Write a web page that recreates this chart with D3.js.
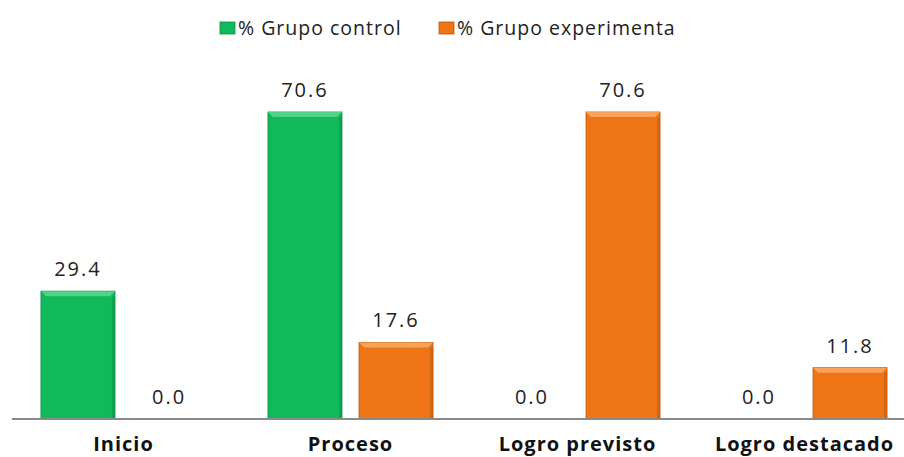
<!DOCTYPE html>
<html>
<head>
<meta charset="utf-8">
<script src="https://cdn.jsdelivr.net/npm/d3@7"></script>
<style>
  html, body { margin: 0; padding: 0; background: #fff; }
  svg text { font-family: "Open Sans", sans-serif; }
</style>
</head>
<body>
<div class="chart"></div>
<script>
// data
const categories = ["Inicio", "Proceso", "Logro previsto", "Logro destacado"];
const seriesNames = ["% Grupo control", "% Grupo experimenta"];
const controlValues = [29.4, 70.6, 0.0, 0.0];
const experimentalValues = [0.0, 17.6, 70.6, 11.8];

const colors = ["#10b95a", "#ee7415"];
const darkColors = ["#0a8f45", "#b85a0e"];
const lightColors = ["#4fd487", "#f8a25a"];

const width = 904, height = 457;
const baseY = 419;

const rows = categories.map((c, i) => ({
    cat: c,
    vals: [controlValues[i], experimentalValues[i]]
}));

const svg = d3.select(".chart").append("svg")
    .attr("width", width)
    .attr("height", height);

// scales
const x0 = d3.scaleBand()
    .domain(categories)
    .range([10, 918]);

const x1 = d3.scaleBand()
    .domain([0, 1])
    .range([0, x0.bandwidth()])
    .paddingInner(0.187)
    .paddingOuter(0.34);

const y = d3.scaleLinear()
    .domain([0, 70.6])
    .range([baseY, 112]);

// bars
const groups = svg.selectAll("g.cat")
    .data(rows)
    .enter().append("g")
        .attr("class", "cat")
        .attr("transform", d => "translate(" + x0(d.cat) + ",0)");

const bars = groups.selectAll("g.bar")
    .data(d => d.vals.map((v, s) => ({v: v, s: s})))
    .enter().append("g")
        .attr("class", "bar");

const bev = 5;

bars.filter(d => d.v > 0).append("rect")
    .attr("x", d => x1(d.s))
    .attr("y", d => y(d.v))
    .attr("width", x1.bandwidth())
    .attr("height", d => baseY - y(d.v))
    .attr("fill", d => colors[d.s])
    .attr("stroke", d => darkColors[d.s])
    .attr("stroke-width", 0.8);

// side shading
bars.filter(d => d.v > 0).append("rect")
    .attr("x", d => x1(d.s) + x1.bandwidth() - 3)
    .attr("y", d => y(d.v) + bev)
    .attr("width", 3)
    .attr("height", d => baseY - y(d.v) - bev)
    .attr("fill", d => darkColors[d.s])
    .attr("opacity", 0.5);

// top bevel highlight
bars.filter(d => d.v > 0).append("path")
    .attr("d", d => {
        const xa = x1(d.s), xb = xa + x1.bandwidth(), yt = y(d.v);
        return "M" + xa + "," + yt + "L" + xb + "," + yt +
            "L" + (xb - bev) + "," + (yt + bev) + "L" + (xa + bev) + "," + (yt + bev) + "Z";
    })
    .attr("fill", d => lightColors[d.s]);

// value labels
bars.append("text")
    .attr("x", d => x1(d.s) + x1.bandwidth() / 2)
    .attr("y", d => y(d.v) - 15)
    .attr("text-anchor", "middle")
    .attr("font-size", 20)
    .attr("letter-spacing", 2)
    .attr("fill", "#222")
    .text(d => d.v.toFixed(1));

// baseline axis
svg.append("line")
    .attr("x1", 12)
    .attr("x2", width)
    .attr("y1", baseY)
    .attr("y2", baseY)
    .attr("stroke", "#8a8a8a")
    .attr("stroke-width", 2);

// category labels
svg.selectAll("text.cat")
    .data(categories)
    .enter().append("text")
        .attr("class", "cat")
        .attr("x", d => x0(d) + x0.bandwidth() / 2)
        .attr("y", 451)
        .attr("text-anchor", "middle")
        .attr("font-size", 20)
        .attr("font-weight", "bold")
        .attr("letter-spacing", 1)
        .attr("fill", "#111")
        .text(d => d);

// legend
const legendX = [220, 439];
const legend = svg.selectAll("g.legend")
    .data(seriesNames)
    .enter().append("g")
        .attr("class", "legend")
        .attr("transform", (d, i) => "translate(" + legendX[i] + ",22)");

legend.append("rect")
    .attr("width", 15)
    .attr("height", 12)
    .attr("fill", (d, i) => colors[i])
    .attr("stroke", (d, i) => darkColors[i])
    .attr("stroke-width", 0.8);

legend.append("text")
    .attr("x", 18)
    .attr("y", 13)
    .attr("font-size", 19.5)
    .attr("letter-spacing", 1)
    .attr("fill", "#222")
    .text(d => d);
</script>
</body>
</html>
